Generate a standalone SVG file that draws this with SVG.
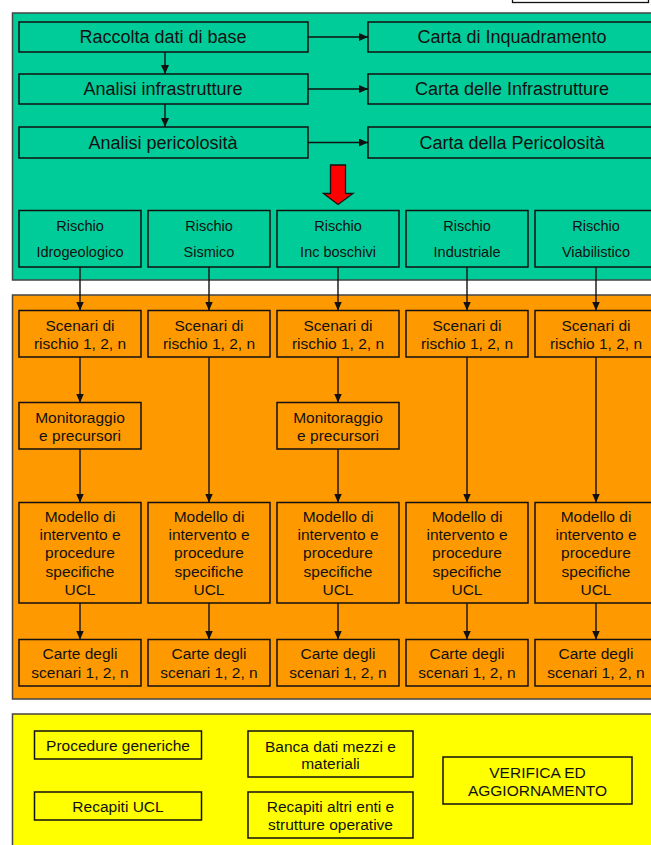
<svg xmlns="http://www.w3.org/2000/svg" width="651" height="845" viewBox="0 0 651 845">
<defs>
<style>
text{font-family:"Liberation Sans",Arial,sans-serif;fill:#111;text-anchor:middle;dominant-baseline:central}
.panel{stroke:#444;stroke-width:1.5}
.g{fill:#00CC99;stroke:#111;stroke-width:1.5}
.o{fill:#FF9900;stroke:#111;stroke-width:1.5}
.y{fill:#FFFF00;stroke:#111;stroke-width:1.5}
.t18{font-size:18px}
.t15{font-size:14.5px}
.t16{font-size:15.5px}
.c line{stroke:#111;stroke-width:1.4;marker-end:url(#ah)}
</style>
<marker id="ah" markerWidth="9" markerHeight="8" refX="9" refY="4" orient="auto" markerUnits="userSpaceOnUse">
<path d="M0,0 L9,4 L0,8 Z" fill="#111"/>
</marker>
</defs>
<rect width="651" height="845" fill="#fff"/>
<rect id="topbox" x="512.5" y="-4" width="136" height="6.5" fill="#fff" stroke="#111" stroke-width="1.3"/>
<rect id="panel-green" class="panel" x="12.5" y="13" width="650" height="267" fill="#00CC99"/>
<rect id="panel-orange" class="panel" x="12.5" y="295" width="650" height="404" fill="#FF9900"/>
<rect id="panel-yellow" class="panel" x="12.5" y="714" width="650" height="140" fill="#FFFF00"/>

<g id="n-raccolta"><rect class="g" x="19" y="22" width="289" height="30"/><text class="t18" x="163" y="37">Raccolta dati di base</text></g>
<g id="n-infra"><rect class="g" x="19" y="74" width="289" height="30"/><text class="t18" x="163" y="89">Analisi infrastrutture</text></g>
<g id="n-peric"><rect class="g" x="19" y="127" width="289" height="31"/><text class="t18" x="163" y="142.5">Analisi pericolosità</text></g>
<g id="n-carta1"><rect class="g" x="368" y="22" width="300" height="30"/><text class="t18" x="512" y="37">Carta di Inquadramento</text></g>
<g id="n-carta2"><rect class="g" x="368" y="74" width="300" height="30"/><text class="t18" x="512" y="89">Carta delle Infrastrutture</text></g>
<g id="n-carta3"><rect class="g" x="368" y="127" width="300" height="31"/><text class="t18" x="512" y="142.5">Carta della Pericolosità</text></g>

<g id="red-arrow"><path d="M330.5,165 H345.5 V193.5 H353 L338,204.5 L323.5,193.5 H330.5 Z" fill="#FF0000" stroke="#111" stroke-width="1.3"/></g>

<g id="n-r1"><rect class="g" x="19" y="210.5" width="122" height="56.5"/><text class="t15" x="80" y="226">Rischio</text><text class="t15" x="80" y="252">Idrogeologico</text></g>
<g id="n-r2"><rect class="g" x="148" y="210.5" width="122" height="56.5"/><text class="t15" x="209" y="226">Rischio</text><text class="t15" x="209" y="252">Sismico</text></g>
<g id="n-r3"><rect class="g" x="277" y="210.5" width="122" height="56.5"/><text class="t15" x="338" y="226">Rischio</text><text class="t15" x="338" y="252">Inc boschivi</text></g>
<g id="n-r4"><rect class="g" x="406" y="210.5" width="122" height="56.5"/><text class="t15" x="467" y="226">Rischio</text><text class="t15" x="467" y="252">Industriale</text></g>
<g id="n-r5"><rect class="g" x="535" y="210.5" width="130" height="56.5"/><text class="t15" x="596" y="226">Rischio</text><text class="t15" x="596" y="252">Viabilistico</text></g>

<g id="n-s1"><rect class="o" x="19" y="310.5" width="122" height="46.5"/><text class="t16" x="80" y="325">Scenari di</text><text class="t16" x="80" y="343">rischio 1, 2, n</text></g>
<g id="n-s2"><rect class="o" x="148" y="310.5" width="122" height="46.5"/><text class="t16" x="209" y="325">Scenari di</text><text class="t16" x="209" y="343">rischio 1, 2, n</text></g>
<g id="n-s3"><rect class="o" x="277" y="310.5" width="122" height="46.5"/><text class="t16" x="338" y="325">Scenari di</text><text class="t16" x="338" y="343">rischio 1, 2, n</text></g>
<g id="n-s4"><rect class="o" x="406" y="310.5" width="122" height="46.5"/><text class="t16" x="467" y="325">Scenari di</text><text class="t16" x="467" y="343">rischio 1, 2, n</text></g>
<g id="n-s5"><rect class="o" x="535" y="310.5" width="130" height="46.5"/><text class="t16" x="596" y="325">Scenari di</text><text class="t16" x="596" y="343">rischio 1, 2, n</text></g>

<g id="n-m1"><rect class="o" x="19" y="402.5" width="122" height="46.5"/><text class="t16" x="80" y="417">Monitoraggio</text><text class="t16" x="80" y="435">e precursori</text></g>
<g id="n-m3"><rect class="o" x="277" y="402.5" width="122" height="46.5"/><text class="t16" x="338" y="417">Monitoraggio</text><text class="t16" x="338" y="435">e precursori</text></g>

<g id="n-md1"><rect class="o" x="19" y="502.5" width="122" height="100.5"/><text class="t16" x="80" y="516">Modello di</text><text class="t16" x="80" y="534">intervento e</text><text class="t16" x="80" y="552.5">procedure</text><text class="t16" x="80" y="571">specifiche</text><text class="t16" x="80" y="589">UCL</text></g>
<g id="n-md2"><rect class="o" x="148" y="502.5" width="122" height="100.5"/><text class="t16" x="209" y="516">Modello di</text><text class="t16" x="209" y="534">intervento e</text><text class="t16" x="209" y="552.5">procedure</text><text class="t16" x="209" y="571">specifiche</text><text class="t16" x="209" y="589">UCL</text></g>
<g id="n-md3"><rect class="o" x="277" y="502.5" width="122" height="100.5"/><text class="t16" x="338" y="516">Modello di</text><text class="t16" x="338" y="534">intervento e</text><text class="t16" x="338" y="552.5">procedure</text><text class="t16" x="338" y="571">specifiche</text><text class="t16" x="338" y="589">UCL</text></g>
<g id="n-md4"><rect class="o" x="406" y="502.5" width="122" height="100.5"/><text class="t16" x="467" y="516">Modello di</text><text class="t16" x="467" y="534">intervento e</text><text class="t16" x="467" y="552.5">procedure</text><text class="t16" x="467" y="571">specifiche</text><text class="t16" x="467" y="589">UCL</text></g>
<g id="n-md5"><rect class="o" x="535" y="502.5" width="130" height="100.5"/><text class="t16" x="596" y="516">Modello di</text><text class="t16" x="596" y="534">intervento e</text><text class="t16" x="596" y="552.5">procedure</text><text class="t16" x="596" y="571">specifiche</text><text class="t16" x="596" y="589">UCL</text></g>

<g id="n-c1"><rect class="o" x="19" y="639.5" width="122" height="46.5"/><text class="t16" x="80" y="653.5">Carte degli</text><text class="t16" x="80" y="672">scenari 1, 2, n</text></g>
<g id="n-c2"><rect class="o" x="148" y="639.5" width="122" height="46.5"/><text class="t16" x="209" y="653.5">Carte degli</text><text class="t16" x="209" y="672">scenari 1, 2, n</text></g>
<g id="n-c3"><rect class="o" x="277" y="639.5" width="122" height="46.5"/><text class="t16" x="338" y="653.5">Carte degli</text><text class="t16" x="338" y="672">scenari 1, 2, n</text></g>
<g id="n-c4"><rect class="o" x="406" y="639.5" width="122" height="46.5"/><text class="t16" x="467" y="653.5">Carte degli</text><text class="t16" x="467" y="672">scenari 1, 2, n</text></g>
<g id="n-c5"><rect class="o" x="535" y="639.5" width="130" height="46.5"/><text class="t16" x="596" y="653.5">Carte degli</text><text class="t16" x="596" y="672">scenari 1, 2, n</text></g>

<g id="n-procgen"><rect class="y" x="34.5" y="731" width="167" height="28"/><text class="t16" x="118" y="745">Procedure generiche</text></g>
<g id="n-recucl"><rect class="y" x="34.5" y="792" width="167" height="28"/><text class="t16" x="118" y="806">Recapiti UCL</text></g>
<g id="n-banca"><rect class="y" x="248" y="731" width="165" height="46"/><text class="t16" x="330.5" y="746.5">Banca dati mezzi e</text><text class="t16" x="330.5" y="763">materiali</text></g>
<g id="n-recaltri"><rect class="y" x="248" y="792" width="165" height="46"/><text class="t16" x="330.5" y="806">Recapiti altri enti e</text><text class="t16" x="330.5" y="824">strutture operative</text></g>
<g id="n-verifica"><rect class="y" x="443" y="757" width="189" height="47"/><text class="t16" x="537.5" y="772.5">VERIFICA ED</text><text class="t16" x="537.5" y="790.5">AGGIORNAMENTO</text></g>

<g id="connectors" class="c">
<line x1="308" y1="37" x2="368" y2="37"/>
<line x1="308" y1="89" x2="368" y2="89"/>
<line x1="308" y1="142.5" x2="368" y2="142.5"/>
<line x1="165" y1="52" x2="165" y2="74"/>
<line x1="165" y1="104" x2="165" y2="127"/>
<line x1="80" y1="267" x2="80" y2="310.5"/>
<line x1="209" y1="267" x2="209" y2="310.5"/>
<line x1="338" y1="267" x2="338" y2="310.5"/>
<line x1="467" y1="267" x2="467" y2="310.5"/>
<line x1="596" y1="267" x2="596" y2="310.5"/>
<line x1="80" y1="357" x2="80" y2="402.5"/>
<line x1="338" y1="357" x2="338" y2="402.5"/>
<line x1="80" y1="449" x2="80" y2="502.5"/>
<line x1="338" y1="449" x2="338" y2="502.5"/>
<line x1="209" y1="357" x2="209" y2="502.5"/>
<line x1="467" y1="357" x2="467" y2="502.5"/>
<line x1="596" y1="357" x2="596" y2="502.5"/>
<line x1="80" y1="603" x2="80" y2="639.5"/>
<line x1="209" y1="603" x2="209" y2="639.5"/>
<line x1="338" y1="603" x2="338" y2="639.5"/>
<line x1="467" y1="603" x2="467" y2="639.5"/>
<line x1="596" y1="603" x2="596" y2="639.5"/>
</g>
</svg>
